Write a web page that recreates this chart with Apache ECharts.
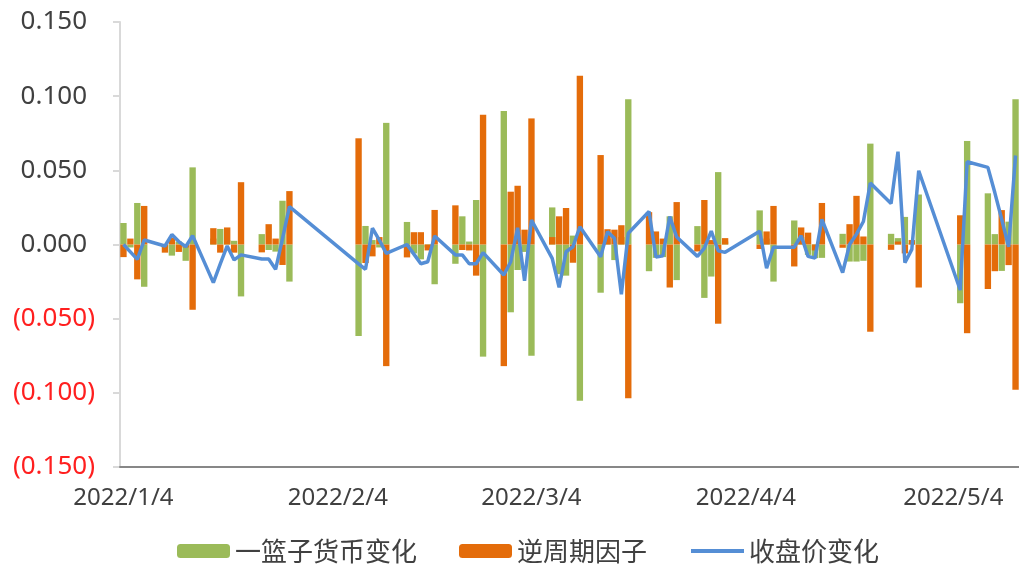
<!DOCTYPE html>
<html>
<head>
<meta charset="utf-8">
<script src="https://cdn.jsdelivr.net/npm/echarts@6/dist/echarts.min.js"></script>
<style>
  html, body { margin: 0; padding: 0; background: #fff; }
  #main { width: 1019px; height: 566px; }
</style>
</head>
<body>
<div id="main"></div>
<script>
// trading days shown in the chart
const tradeDays = [
  '2022/1/4', '2022/1/5', '2022/1/6', '2022/1/7',
  '2022/1/10', '2022/1/11', '2022/1/12', '2022/1/13', '2022/1/14',
  '2022/1/17', '2022/1/18', '2022/1/19', '2022/1/20', '2022/1/21',
  '2022/1/24', '2022/1/25', '2022/1/26', '2022/1/27', '2022/1/28',
  '2022/2/7', '2022/2/8', '2022/2/9', '2022/2/10', '2022/2/11',
  '2022/2/14', '2022/2/15', '2022/2/16', '2022/2/17', '2022/2/18',
  '2022/2/21', '2022/2/22', '2022/2/23', '2022/2/24', '2022/2/25',
  '2022/2/28', '2022/3/1', '2022/3/2', '2022/3/3', '2022/3/4',
  '2022/3/7', '2022/3/8', '2022/3/9', '2022/3/10', '2022/3/11',
  '2022/3/14', '2022/3/15', '2022/3/16', '2022/3/17', '2022/3/18',
  '2022/3/21', '2022/3/22', '2022/3/23', '2022/3/24', '2022/3/25',
  '2022/3/28', '2022/3/29', '2022/3/30', '2022/3/31', '2022/4/1',
  '2022/4/6', '2022/4/7', '2022/4/8',
  '2022/4/11', '2022/4/12', '2022/4/13', '2022/4/14', '2022/4/15',
  '2022/4/18', '2022/4/19', '2022/4/20', '2022/4/21', '2022/4/22',
  '2022/4/25', '2022/4/26', '2022/4/27', '2022/4/28', '2022/4/29',
  '2022/5/5', '2022/5/6',
  '2022/5/9', '2022/5/10', '2022/5/11', '2022/5/12', '2022/5/13'
]

// 一篮子货币变化
const basketVals = [
  0.0145, -0.002, 0.028, -0.0285,
  -0.002, -0.0075, 0.002, -0.011, 0.052,
  0.004, 0.0105, 0.003, 0.0025, -0.035,
  0.007, -0.0037, -0.0048, 0.0295, -0.025,
  -0.0617, 0.0125, 0.003, -0.002, 0.082,
  0.0152, -0.006, -0.010, -0.002, -0.0268,
  -0.013, 0.019, 0.002, 0.030, -0.0756,
  0.090, -0.0457, -0.0172, -0.005, -0.075,
  0.025, -0.020, -0.021, 0.006, -0.1053,
  -0.0325, 0.004, -0.0105, 0.005, 0.098,
  -0.018, -0.009, -0.0085, 0.019, -0.024,
  0.0124, -0.036, -0.0216, 0.0488, 0.002,
  0.023, 0.004, -0.025,
  0.0162, 0.005, -0.007, -0.0092, -0.009,
  0.0072, -0.0115, -0.0115, -0.011, 0.068,
  0.0072, 0.0043, 0.0186, 0.001, 0.0337,
  -0.0396, 0.0698,
  0.0345, 0.007, -0.0178, 0.0154, 0.098
]

// 逆周期因子
const cycleVals = [
  -0.0085, 0.004, -0.0235, 0.026,
  -0.0055, 0.0045, -0.005, -0.002, -0.044,
  0.011, -0.0055, 0.0115, -0.0055, 0.042,
  -0.0053, 0.0137, 0.004, -0.0138, 0.036,
  0.0716, -0.0125, -0.008, 0.005, -0.082,
  -0.0087, 0.0083, 0.0083, -0.004, 0.0233,
  0.0264, -0.0037, -0.004, -0.021, 0.0875,
  -0.082, 0.0356, 0.0396, 0.010, 0.085,
  0.005, 0.019, 0.0246, -0.0123, 0.1138,
  0.0603, 0.0103, 0.010, 0.013, -0.1037,
  0.0218, 0.0088, 0.004, -0.029, 0.0286,
  -0.0047, 0.030, 0.003, -0.0534, 0.0043,
  -0.003, 0.0088, 0.026,
  -0.0148, 0.0115, 0.008, -0.004, 0.028,
  -0.0022, 0.0137, 0.0328, 0.0054, -0.0588,
  -0.0036, 0.002, -0.006, 0.003, -0.029,
  0.0197, -0.0598,
  -0.030, -0.018, 0.0232, -0.0139, -0.098
]

// 收盘价变化
const closeVals = [
  0.000, -0.005, -0.010, 0.003,
  -0.001, 0.0067, 0.002, -0.0015, 0.006,
  -0.0257, -0.013, -0.001, -0.0104, -0.007,
  -0.0098, -0.0098, -0.0167, 0.004, 0.0255,
  -0.013, -0.0167, 0.011, 0.003, -0.006,
  0.000, -0.0065, -0.013, -0.0116, 0.0057,
  -0.007, -0.007, -0.013, -0.013, -0.0055,
  -0.0206, -0.0116, 0.0113, -0.0244, 0.0165,
  -0.0093, -0.0289, -0.0049, -0.0015, 0.012,
  -0.0083, 0.0086, 0.0042, -0.0336, 0.0076,
  0.0222, -0.0085, -0.0076, 0.0189, 0.005,
  -0.008, -0.0024, 0.009, -0.0042, -0.0053,
  0.009, -0.016, -0.0018,
  -0.0018, 0.0059, -0.008, -0.0092, 0.017,
  -0.0189, 0.000, 0.007, 0.0155, 0.0414,
  0.0276, 0.0626, -0.0123, -0.0033, 0.0497,
  -0.0307, 0.0558,
  0.052, 0.035, 0.017, -0.0016, 0.060
]

// y tick settings
const yMin = -0.15
const yMax = 0.15
const yStep = 0.05

// calendar axis: every day from first to last trading day (date axis look)
const categories = []
for (let i = 0; i < 130; i++) {
  let d = new Date(2022, 0, 4 + i)
  categories.push(d.getFullYear() + '/' + (d.getMonth() + 1) + '/' + d.getDate())
}

function spread(vals) {
  let out = categories.map(() => null)
  tradeDays.forEach((day, k) => {
    out[categories.indexOf(day)] = vals[k]
  })
  return out
}

const chart = echarts.init(document.getElementById('main'))

const option = {
  animation: false,
  textStyle: { fontFamily: 'Noto Sans, Noto Sans CJK SC, sans-serif' },
  grid: { left: 120, top: 22, width: 901, height: 445 },
  legend: {
    left: 172,
    top: 533,
    itemWidth: 53,
    itemHeight: 14,
    itemGap: 42,
    textStyle: { fontSize: 26, color: '#404040', fontFamily: 'Noto Sans CJK SC' },
    data: [
      '一篮子货币变化',
      '逆周期因子',
      { name: '收盘价变化', itemStyle: { opacity: 0 }, lineStyle: { width: 4 } }
    ]
  },
  xAxis: [
    {
      type: 'category',
      data: categories,
      boundaryGap: true,
      axisLine: { show: false },
      axisTick: { show: false },
      axisLabel: {
        interval: (idx, value) => value.split('/')[2] === '4',
        fontSize: 24,
        color: '#404040',
        margin: 19
      }
    },
    {
      type: 'category',
      data: categories,
      position: 'bottom',
      z: 3,
      axisLine: { show: true, onZero: true, lineStyle: { color: '#878787', width: 2 } },
      axisTick: { show: false },
      axisLabel: { show: false }
    }
  ],
  yAxis: {
    type: 'value',
    min: yMin,
    max: yMax,
    interval: yStep,
    axisLine: { show: true, lineStyle: { color: '#D9D9D9', width: 2 } },
    axisTick: { show: true, length: 7, lineStyle: { color: '#D9D9D9', width: 2 } },
    splitLine: { show: false },
    axisLabel: {
      margin: 25,
      formatter: (v) => {
        let n = Math.round(v * 1000) / 1000
        if (n < 0) return '{neg|(' + (-n).toFixed(3) + ')}'
        return '{pos|' + n.toFixed(3) + '}'
      },
      rich: {
        pos: { fontSize: 26, color: '#404040', padding: [0, 8, 0, 0] },
        neg: { fontSize: 26, color: '#FF1F1F' }
      }
    }
  },
  series: [
    {
      name: '一篮子货币变化',
      type: 'bar',
      data: spread(basketVals),
      barWidth: '92%',
      barGap: '-100%',
      z: 2,
      itemStyle: { color: '#9BBB59' }
    },
    {
      name: '逆周期因子',
      type: 'bar',
      data: spread(cycleVals),
      barWidth: '92%',
      barGap: '-100%',
      z: 2,
      itemStyle: { color: '#E46C0A' }
    },
    {
      name: '收盘价变化',
      type: 'line',
      data: spread(closeVals),
      connectNulls: true,
      symbol: 'none',
      z: 4,
      lineStyle: { color: '#558ED5', width: 3.5 },
      itemStyle: { color: '#558ED5' }
    }
  ]
}

chart.setOption(option)
</script>
</body>
</html>
